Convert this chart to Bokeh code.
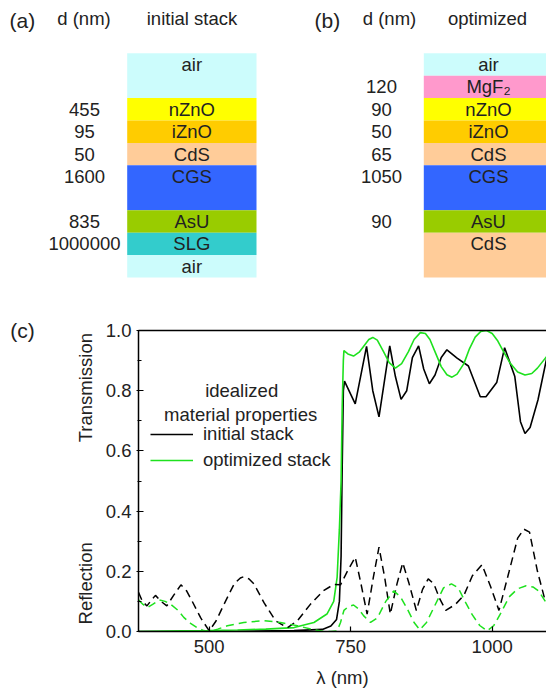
import numpy as np
from bokeh.plotting import figure
from bokeh.models import (Range1d, Label, Legend, LegendItem, LinearAxis,
                          FixedTicker, PrintfTickFormatter, ColumnDataSource)
from bokeh.layouts import column
from bokeh.core.properties import value
from bokeh.embed import file_html
from bokeh.resources import INLINE

FONT = "Liberation Sans"
TXT = "#222222"
GREEN = "#1ee11e"
FS = "18.5px"

# ---------------- stack data ----------------
layers_a = ["air", "nZnO", "iZnO", "CdS", "CGS", "AsU", "SLG", "air"]
d_a = ["", "455", "95", "50", "1600", "835", "1000000", ""]
rows_a = [2, 1, 1, 1, 2, 1, 1, 1]

layers_b = ["air", "MgF₂", "nZnO", "iZnO", "CdS", "CGS", "AsU", "CdS"]
d_b = ["", "120", "90", "50", "65", "1050", "90", ""]
rows_b = [1, 1, 1, 1, 1, 2, 1, 2]

layer_colors = {"air": "#ccfcfc", "nZnO": "#ffff00", "iZnO": "#ffcc00",
                "CdS": "#ffcc99", "CGS": "#3366ff", "AsU": "#99cc00",
                "SLG": "#33cccc", "MgF₂": "#ff99cc"}

# ---------------- spectra data ----------------
wl_T_init = [375, 450, 550, 650, 700, 715, 725, 730, 733, 735, 737, 739, 758, 778,
             789, 800, 819, 829, 839, 849, 859, 870, 879, 889, 899, 910, 920, 938,
             958, 979, 989, 1008, 1022, 1040, 1050, 1058, 1067, 1081, 1096]
T_init = [0.0, 0.0, 0.001, 0.003, 0.007, 0.018, 0.04, 0.10, 0.25, 0.55, 0.80, 0.832,
          0.756, 0.947, 0.80, 0.713, 0.949, 0.847, 0.771, 0.80, 0.91, 0.949, 0.872,
          0.823, 0.852, 0.91, 0.936, 0.908, 0.882, 0.78, 0.78, 0.827, 0.943, 0.847,
          0.697, 0.658, 0.678, 0.77, 0.905]

wl_T_opt = [375, 450, 500, 550, 600, 650, 685, 708, 720, 726, 730, 733, 735, 737, 738,
            745, 755, 765, 775, 782, 789, 797, 808, 818, 829, 840, 852, 862, 873, 882,
            890, 900, 910, 920, 929, 938, 950, 960, 970, 980, 990, 1000, 1010, 1020,
            1032, 1045, 1058, 1070, 1080, 1096]
T_opt = [0.0, 0.002, 0.003, 0.005, 0.008, 0.013, 0.03, 0.058, 0.10, 0.18, 0.34, 0.50,
         0.75, 0.90, 0.933, 0.922, 0.915, 0.928, 0.953, 0.97, 0.977, 0.968, 0.93,
         0.893, 0.875, 0.89, 0.93, 0.97, 0.993, 0.99, 0.97, 0.925, 0.88, 0.853, 0.845,
         0.855, 0.89, 0.94, 0.978, 0.997, 1.0, 0.99, 0.965, 0.93, 0.891, 0.862, 0.852,
         0.857, 0.875, 0.913]

wl_R_init = [375, 382, 390, 398, 405, 415, 425, 437, 450, 460, 470, 485, 500, 512, 526,
             544, 555, 561, 570, 579, 597, 617, 638, 656, 679, 702, 720, 732, 744, 758,
             768, 779, 790, 800, 810, 820, 832, 842, 853, 866, 877, 887, 897, 907, 918,
             935, 950, 965, 982, 997, 1012, 1030, 1045, 1056, 1066, 1080, 1094]
R_init = [0.13, 0.10, 0.085, 0.105, 0.12, 0.10, 0.085, 0.12, 0.155, 0.135, 0.10, 0.045,
          0.002, 0.035, 0.09, 0.158, 0.178, 0.182, 0.175, 0.158, 0.095, 0.036, 0.012,
          0.036, 0.091, 0.136, 0.156, 0.155, 0.20, 0.247, 0.16, 0.058, 0.18, 0.28, 0.18,
          0.058, 0.16, 0.228, 0.16, 0.07, 0.14, 0.175, 0.158, 0.11, 0.07, 0.09, 0.12,
          0.185, 0.222, 0.15, 0.07, 0.2, 0.31, 0.34, 0.33, 0.2, 0.10]

wl_R_opt = [375, 383, 391, 400, 412, 422, 432, 445, 455, 467, 479, 490, 502, 515, 532,
            561, 597, 626, 656, 680, 700, 715, 726, 732, 738, 746, 755, 764, 773, 785,
            797, 812, 826, 838, 850, 862, 872, 884, 897, 914, 928, 940, 952, 965, 978,
            991, 1003, 1015, 1030, 1045, 1060, 1072, 1082, 1095]
R_opt = [0.105, 0.09, 0.08, 0.09, 0.105, 0.10, 0.09, 0.07, 0.047, 0.027, 0.012, 0.003,
         0.0, 0.008, 0.019, 0.03, 0.036, 0.03, 0.019, 0.008, 0.001, 0.0, 0.002, 0.03,
         0.07, 0.083, 0.088, 0.075, 0.052, 0.03, 0.045, 0.10, 0.135, 0.115, 0.075, 0.03,
         0.006, 0.03, 0.08, 0.145, 0.158, 0.145, 0.10, 0.055, 0.02, 0.002, 0.02, 0.06,
         0.115, 0.142, 0.152, 0.148, 0.135, 0.097]

y_ticks = [0.0, 0.2, 0.4, 0.6, 0.8, 1.0]
y_minor = [0.1, 0.3, 0.5, 0.7, 0.9]
x_ticks = [500, 750, 1000]

# ---------------- top figure: layer stacks ----------------
STACK_TOP = 52.7
UNIT = 22.43
top = figure(width=546, height=298, x_range=Range1d(0, 546), y_range=Range1d(298, 0),
             output_backend="svg", toolbar_location=None,
             x_axis_location=None, y_axis_location=None, min_border=0)
top.frame_align = False
top.grid.visible = False
top.outline_line_color = None


def draw_stack(p, names, ds, rows, left, right, dx):
    n = len(names)
    cum = np.concatenate([[0.0], np.cumsum(np.array(rows, float))])
    tops = STACK_TOP + cum[:-1] * UNIT
    bots = STACK_TOP + cum[1:] * UNIT
    src = ColumnDataSource(dict(
        left=[left] * n, right=[right] * n, top=list(tops), bottom=list(bots),
        color=[layer_colors[k] for k in names], name=names, d=ds,
        ty=list(tops + 0.5 * UNIT), tx=[(left + right) / 2] * n, dx=[dx] * n))
    p.quad(left="left", right="right", top="top", bottom="bottom",
           fill_color="color", line_color=None, source=src)
    p.text(x="tx", y="ty", text="name", source=src, text_align="center",
           text_baseline="middle", text_font=value(FONT), text_font_size=value(FS),
           text_color=TXT)
    p.text(x="dx", y="ty", text="d", source=src, text_align="center",
           text_baseline="middle", text_font=value(FONT), text_font_size=value(FS),
           text_color=TXT)


draw_stack(top, layers_a, d_a, rows_a, 126.7, 256.0, 84.0)
draw_stack(top, layers_b, d_b, rows_b, 423.3, 552.7, 381.0)

hdr = ColumnDataSource(dict(x=[83.5, 191.5, 389.0, 487.0], y=[18, 18, 18, 18],
                            t=["d (nm)", "initial stack", "d (nm)", "optimized"]))
top.text(x="x", y="y", text="t", source=hdr, text_align="center", text_baseline="middle",
         text_font=value(FONT), text_font_size=value(FS), text_color=TXT)
pan = ColumnDataSource(dict(x=[9.0, 314.0], y=[19.5, 19.5], t=["(a)", "(b)"]))
top.text(x="x", y="y", text="t", source=pan, text_align="left", text_baseline="middle",
         text_font=value(FONT), text_font_size=value("21px"), text_color=TXT)

# ---------------- bottom figure: spectra ----------------
p = figure(width=546, height=394, x_range=Range1d(375, 1096), y_range=Range1d(0, 1),
           output_backend="svg", toolbar_location=None,
           min_border_left=138, min_border_right=0, min_border_top=32,
           min_border_bottom=61)
p.frame_align = False
p.grid.visible = False
p.outline_line_color = None

r_ti = p.line(wl_T_init, T_init, line_color="black", line_width=1.6)
r_to = p.line(wl_T_opt, T_opt, line_color=GREEN, line_width=1.6)
p.line(wl_R_init, R_init, line_color="black", line_width=1.5, line_dash="8 5")
p.line(wl_R_opt, R_opt, line_color=GREEN, line_width=1.5, line_dash="8 5")

for ax in (p.xaxis[0], p.yaxis[0]):
    ax.axis_line_color = "black"
    ax.axis_line_width = 1.5
    ax.major_tick_line_color = "black"
    ax.major_tick_line_width = 1.2
    ax.minor_tick_line_color = "black"
    ax.minor_tick_line_width = 1.2
    ax.major_label_text_font = FONT
    ax.major_label_text_font_size = FS
    ax.major_label_text_color = TXT

p.xaxis.ticker = FixedTicker(ticks=x_ticks, minor_ticks=[])
p.xaxis.major_tick_in = 5
p.xaxis.major_tick_out = 0
p.xaxis.major_label_standoff = 8
p.xaxis.axis_label = "λ (nm)"
p.xaxis.axis_label_text_font = FONT
p.xaxis.axis_label_text_font_size = FS
p.xaxis.axis_label_text_font_style = "normal"
p.xaxis.axis_label_text_color = TXT
p.xaxis.axis_label_standoff = 11

p.yaxis.ticker = FixedTicker(ticks=y_ticks, minor_ticks=y_minor)
p.yaxis.formatter = PrintfTickFormatter(format="%.1f")
p.yaxis.major_tick_in = 5
p.yaxis.major_tick_out = 2
p.yaxis.minor_tick_in = 3
p.yaxis.minor_tick_out = 1
p.yaxis.major_label_standoff = 5

top_axis = LinearAxis(ticker=FixedTicker(ticks=[], minor_ticks=[]),
                      axis_line_color="black", axis_line_width=1.5,
                      major_tick_line_color=None, minor_tick_line_color=None)
p.add_layout(top_axis, "above")

lab_kw = dict(text_font=FONT, text_font_size=FS, text_color=TXT,
              text_align="center", text_baseline="middle")
p.add_layout(Label(x=280.6, y=0.81, text="Transmission", angle=np.pi / 2, **lab_kw), "left")
p.add_layout(Label(x=280.6, y=0.16, text="Reflection", angle=np.pi / 2, **lab_kw), "left")
p.add_layout(Label(x=148.4, y=1.0, text="(c)", text_font=FONT, text_font_size="21px",
                   text_color=TXT, text_align="left", text_baseline="middle"), "left")
p.add_layout(Label(x=557.3, y=0.802, text="idealized", **lab_kw))
p.add_layout(Label(x=555.5, y=0.722, text="material properties", **lab_kw))

legend = Legend(items=[LegendItem(label="initial stack", renderers=[r_ti]),
                       LegendItem(label="optimized stack", renderers=[r_to])],
                location=(12, 160), glyph_width=43, glyph_height=20, label_height=20,
                label_standoff=10, spacing=4, padding=0, margin=0,
                border_line_color=None, background_fill_alpha=0,
                label_text_font=FONT, label_text_font_size=FS, label_text_color=TXT)
p.add_layout(legend)

layout = column(top, p)
open("out.html", "w").write(file_html(layout, INLINE))
